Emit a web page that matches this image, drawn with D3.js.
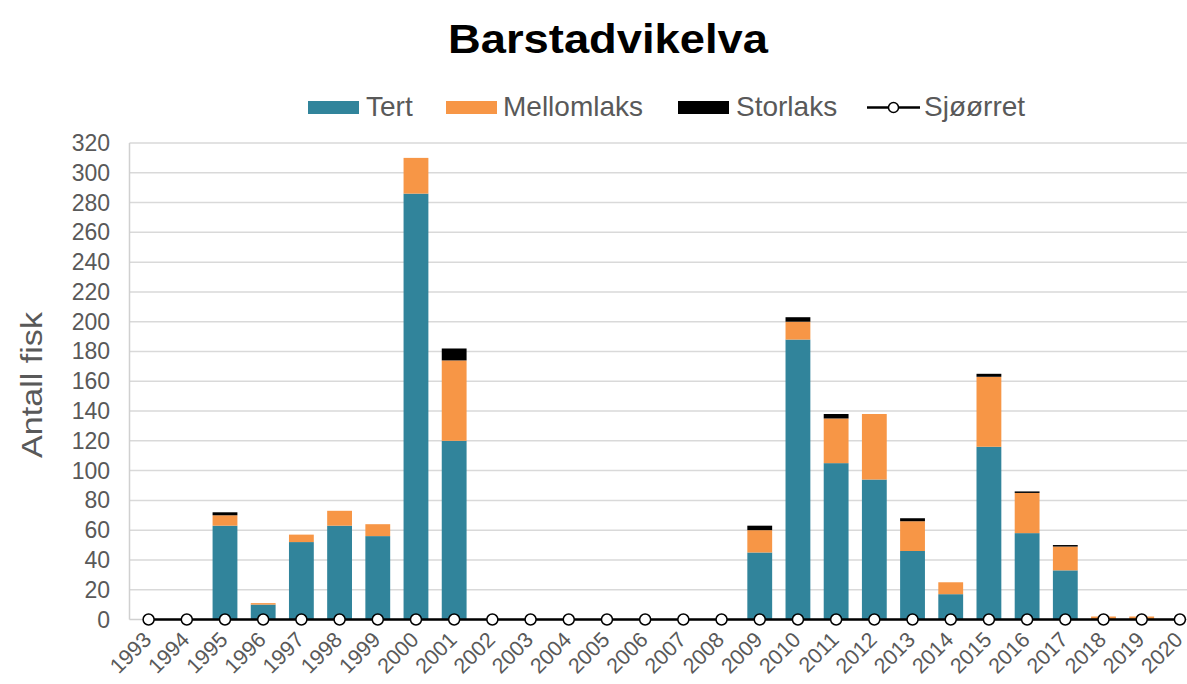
<!DOCTYPE html>
<html lang="no">
  <head>
    <meta charset="utf-8">
    <title>Barstadvikelva</title>
    <script src="https://cdn.jsdelivr.net/npm/d3@7"></script>
    <style>
      body { margin: 0; background: #fff; }
      text { font-family: "Liberation Sans", Arial, sans-serif; }
    </style>
  </head>
  <body>
    <script>

      // data
      var years = ["1993","1994","1995","1996","1997","1998","1999","2000","2001","2002","2003","2004","2005","2006",
                   "2007","2008","2009","2010","2011","2012","2013","2014","2015","2016","2017","2018","2019","2020"];
      var tert     = [0,0,63,10,52,63,56,286,120,0,0,0,0,0,0,0,45,188,105,94,46,17,116,58,33,0,0,0];
      var mellom   = [0,0,7,1,5,10,8,24,54,0,0,0,0,0,0,0,15,12,30,44,20,8,47,27,16,2,2,0];
      var storlaks = [0,0,2,0,0,0,0,0,8,0,0,0,0,0,0,0,3,3,3,0,2,0,2,1,1,0,0,0];
      var sjoorret = [0,0,0,0,0,0,0,0,0,0,0,0,0,0,0,0,0,0,0,0,0,0,0,0,0,0,0,0];
      var yTicks = [0,20,40,60,80,100,120,140,160,180,200,220,240,260,280,300,320];

      var series = ["Tert","Mellomlaks","Storlaks"];
      var colors = {"Tert":"#31849b", "Mellomlaks":"#f79646", "Storlaks":"#000000"};

      var rows = years.map(function(y, i) {
        return {year: y, Tert: tert[i], Mellomlaks: mellom[i], Storlaks: storlaks[i]};
      });

      var W = 1187, H = 684;
      var svg = d3.select("body").append("svg")
                  .attr("width", W)
                  .attr("height", H);

      var x = d3.scaleBand().domain(years).range([129.5, 1199])
                .paddingInner(0.35).paddingOuter(0.175);
      var y = d3.scaleLinear().domain([0, 320]).range([619.5, 143]);

      // grid
      svg.selectAll("line.grid")
         .data(yTicks.slice(1))
         .enter().append("line")
         .attr("x1", 129.5).attr("x2", 1199)
         .attr("y1", function(d) { return y(d); })
         .attr("y2", function(d) { return y(d); })
         .attr("stroke", "#d9d9d9").attr("stroke-width", 1.5);

      // axis lines (plot frame left + bottom)
      svg.append("line").attr("x1", 129.5).attr("x2", 129.5).attr("y1", y(320)).attr("y2", y(0))
         .attr("stroke", "#d0d0d0").attr("stroke-width", 1.5);
      svg.append("line").attr("x1", 129.5).attr("x2", 1199).attr("y1", y(0)).attr("y2", y(0))
         .attr("stroke", "#d0d0d0").attr("stroke-width", 1.5);

      // y tick labels
      svg.selectAll("text.ytick")
         .data(yTicks)
         .enter().append("text")
         .attr("x", 110)
         .attr("y", function(d) { return y(d) + 8; })
         .attr("text-anchor", "end")
         .attr("font-size", 23)
         .attr("fill", "#595959")
         .text(function(d) { return d; });

      // stacked bars
      var stacked = d3.stack().keys(series)(rows);
      svg.selectAll("g.layer")
         .data(stacked)
         .enter().append("g")
         .attr("fill", function(d) { return colors[d.key]; })
         .selectAll("rect")
         .data(function(d) { return d; })
         .enter().append("rect")
         .attr("x", function(d) { return x(d.data.year); })
         .attr("width", x.bandwidth())
         .attr("y", function(d) { return y(d[1]); })
         .attr("height", function(d) { return y(d[0]) - y(d[1]); });

      // Sjøørret line + markers
      var cx = function(d, i) { return x(years[i]) + x.bandwidth() / 2; };
      var line = d3.line().x(cx).y(function(d) { return y(d); });
      svg.append("path").datum(sjoorret)
         .attr("d", line).attr("fill", "none")
         .attr("stroke", "#000").attr("stroke-width", 2.5);
      svg.selectAll("circle.sj")
         .data(sjoorret)
         .enter().append("circle")
         .attr("cx", cx).attr("cy", function(d) { return y(d); })
         .attr("r", 5.5).attr("fill", "#fff")
         .attr("stroke", "#000").attr("stroke-width", 1.5);

      // x tick labels
      svg.selectAll("text.xtick")
         .data(years)
         .enter().append("text")
         .attr("text-anchor", "end")
         .attr("font-size", 21.5)
         .attr("fill", "#595959")
         .attr("transform", function(d) {
           return "translate(" + (x(d) + x.bandwidth() / 2 + 4) + ",641) rotate(-45)";
         })
         .text(function(d) { return d; });

      // y axis title
      svg.append("text")
         .attr("transform", "translate(42,385) rotate(-90)")
         .attr("text-anchor", "middle")
         .attr("font-size", 30)
         .attr("fill", "#595959")
         .attr("textLength", 146).attr("lengthAdjust", "spacingAndGlyphs")
         .text("Antall fisk");

      // title
      svg.append("text")
         .attr("x", 608).attr("y", 53)
         .attr("text-anchor", "middle")
         .attr("font-size", 40).attr("font-weight", "bold")
         .attr("fill", "#000")
         .attr("textLength", 320).attr("lengthAdjust", "spacingAndGlyphs")
         .text("Barstadvikelva");

      // legend
      var legend = [
        {name: "Tert", sx: 308, tx: 366},
        {name: "Mellomlaks", sx: 446, tx: 503},
        {name: "Storlaks", sx: 678, tx: 736}
      ];
      legend.forEach(function(l) {
        svg.append("rect").attr("x", l.sx).attr("y", 101).attr("width", 51).attr("height", 13)
           .attr("fill", colors[l.name]);
        svg.append("text").attr("x", l.tx).attr("y", 115.5)
           .attr("font-size", 28).attr("fill", "#595959").text(l.name);
      });
      svg.append("line").attr("x1", 867).attr("x2", 920).attr("y1", 107.5).attr("y2", 107.5)
         .attr("stroke", "#000").attr("stroke-width", 2.5);
      svg.append("circle").attr("cx", 893.5).attr("cy", 107.5).attr("r", 5)
         .attr("fill", "#fff").attr("stroke", "#000").attr("stroke-width", 1.5);
      svg.append("text").attr("x", 924).attr("y", 115.5)
         .attr("font-size", 28).attr("fill", "#595959").text("Sjøørret");

    </script>
  </body>
</html>
